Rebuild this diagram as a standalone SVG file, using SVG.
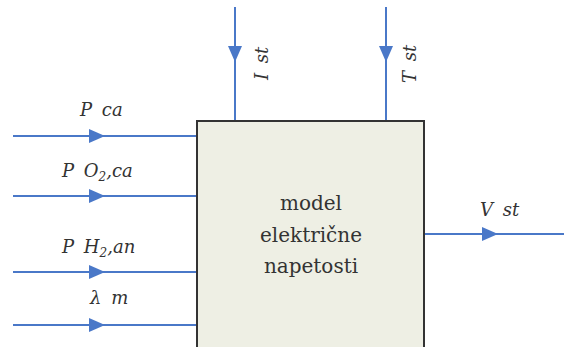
<svg xmlns="http://www.w3.org/2000/svg" width="564" height="347" viewBox="0 0 564 347">
<style>
.c{stroke:#4a78c8;stroke-width:2;fill:none}
.lbl{font-family:'DejaVu Serif',serif;font-style:italic;font-size:18px;fill:#333;word-spacing:4px}
.sub{font-size:12px}
.box{fill:#eeefe4;stroke:#333;stroke-width:2}
.bt{font-family:'DejaVu Serif',serif;font-size:20px;fill:#333;text-anchor:middle}
</style>
<defs>
<marker id="ah" viewBox="0 0 16 14" refX="8" refY="7" markerWidth="16" markerHeight="14" markerUnits="userSpaceOnUse" orient="auto">
<path d="M0,0 L16,7 L0,14 Z" fill="#4a78c8"/>
</marker>
</defs>
<g id="connectors">
<path class="c" d="M13,136 H97 H197" marker-mid="url(#ah)"/>
<path class="c" d="M13,196 H97 H197" marker-mid="url(#ah)"/>
<path class="c" d="M13,272 H97 H197" marker-mid="url(#ah)"/>
<path class="c" d="M13,325 H97 H197" marker-mid="url(#ah)"/>
<path class="c" d="M235,7 V54 V121" marker-mid="url(#ah)"/>
<path class="c" d="M386,7 V54 V121" marker-mid="url(#ah)"/>
<path class="c" d="M424,234 H490 H564" marker-mid="url(#ah)"/>
</g>
<g id="labels">
<text class="lbl" x="80" y="116">P ca</text>
<text class="lbl" x="62" y="177">P O<tspan class="sub" dy="4">2</tspan><tspan dy="-4">,ca</tspan></text>
<text class="lbl" x="62" y="253">P H<tspan class="sub" dy="4">2</tspan><tspan dy="-4">,an</tspan></text>
<text class="lbl" x="90" y="304">λ m</text>
<text class="lbl" transform="translate(268,80) rotate(-90)">I st</text>
<text class="lbl" transform="translate(416,83) rotate(-90)">T st</text>
<text class="lbl" x="480" y="216">V st</text>
</g>
<g id="model">
<rect class="box" x="197" y="121" width="227" height="240"/>
<text class="bt" x="311" y="210">model</text>
<text class="bt" x="311" y="242">električne</text>
<text class="bt" x="311" y="273">napetosti</text>
</g>
</svg>
